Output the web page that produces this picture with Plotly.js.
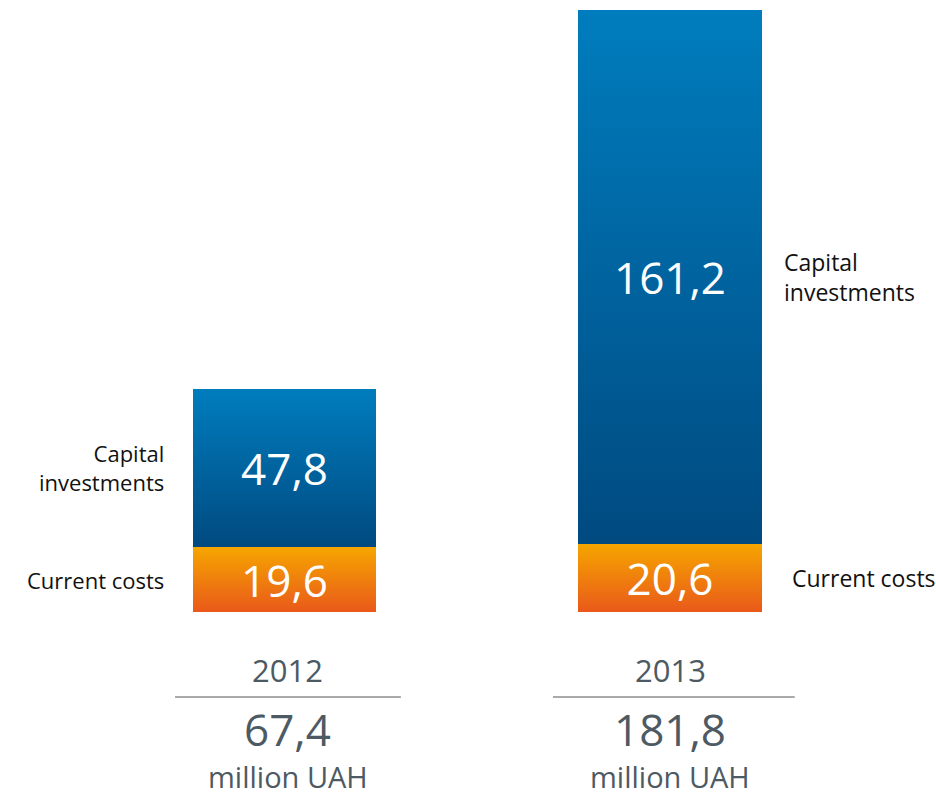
<!DOCTYPE html>
<html>
<head>
<meta charset="utf-8">
<script src="https://cdn.plot.ly/plotly-3.0.1.min.js"></script>
<style>
html,body{margin:0;padding:0;background:#fff;}
#chart{width:936px;height:795px;}
</style>
</head>
<body>
<div id="chart"></div>
<script>
const years = ['2012', '2013'];
const currentCosts = [19.6, 20.6];
const capitalInvestments = [47.8, 161.2];
const totals = [67.4, 181.8];
const seriesNames = ['Current costs', 'Capital investments'];
const unitLabel = 'million UAH';

const fmt = v => v.toFixed(1).replace('.', ',');
const xs = [0, 1];
const barW = 0.475;
const FONT = 'Open Sans, sans-serif';

const traces = [
  {
    type: 'bar', x: xs, y: currentCosts, width: barW, name: seriesNames[0],
    marker: {color: '#EE7F0C'},
    text: currentCosts.map(fmt), textposition: 'inside', insidetextanchor: 'middle',
    constraintext: 'none', textfont: {family: FONT, size: 44, color: '#ffffff'},
    hoverinfo: 'skip'
  },
  {
    type: 'bar', x: xs, y: capitalInvestments, width: barW, name: seriesNames[1],
    marker: {color: '#00649F'},
    text: capitalInvestments.map(fmt), textposition: 'inside', insidetextanchor: 'middle',
    constraintext: 'none', textfont: {family: FONT, size: 44, color: '#ffffff'},
    hoverinfo: 'skip'
  }
];

const annotations = [];
const shapes = [];
const labelFont = {family: FONT, size: 22, color: '#111111'};
const labelFontR = {family: FONT, size: 23, color: '#111111'};
// 2012: left side, right-aligned
annotations.push({xref: 'x', yref: 'y', x: xs[0] - barW / 2 - 0.07, y: currentCosts[0] + capitalInvestments[0] / 2,
  text: 'Capital<br>investments', showarrow: false, xanchor: 'right', yanchor: 'middle', align: 'right', font: labelFont});
annotations.push({xref: 'x', yref: 'y', x: xs[0] - barW / 2 - 0.07, y: currentCosts[0] / 2,
  text: seriesNames[0], showarrow: false, xanchor: 'right', yanchor: 'middle', align: 'right', font: labelFont});
// 2013: right side, left-aligned
annotations.push({xref: 'x', yref: 'y', x: xs[1] + barW / 2 + 0.052, y: currentCosts[1] + capitalInvestments[1] / 2,
  text: 'Capital<br>investments', showarrow: false, xanchor: 'left', yanchor: 'middle', align: 'left', font: labelFontR});
annotations.push({xref: 'x', yref: 'y', x: xs[1] + barW / 2 + 0.075, y: currentCosts[1] / 2,
  text: seriesNames[0], showarrow: false, xanchor: 'left', yanchor: 'middle', align: 'left', font: labelFontR});

const grey = '#4D5A63';
const lineExt = [[-0.284, 0.302], [0.6965, 1.3236]];
const yearCenters = [0.009, 1.0];
years.forEach((yr, i) => {
  annotations.push({xref: 'x', yref: 'paper', x: yearCenters[i], y: -0.0963, text: yr, showarrow: false,
    xanchor: 'center', yanchor: 'middle', font: {family: FONT, size: 31, color: grey}});
  annotations.push({xref: 'x', yref: 'paper', x: yearCenters[i], y: (612 - 729) / 602, text: fmt(totals[i]), showarrow: false,
    xanchor: 'center', yanchor: 'middle', font: {family: FONT, size: 44, color: grey}});
  annotations.push({xref: 'x', yref: 'paper', x: yearCenters[i], y: (612 - 776) / 602, text: unitLabel, showarrow: false,
    xanchor: 'center', yanchor: 'middle', font: {family: FONT, size: 29, color: grey}});
  shapes.push({type: 'line', xref: 'x', yref: 'paper', x0: lineExt[i][0], x1: lineExt[i][1], y0: -0.1412, y1: -0.1412,
    line: {color: '#555555', width: 1}});
});

const layout = {
  width: 936, height: 795,
  margin: {l: 0, r: 0, t: 10, b: 183, pad: 0},
  paper_bgcolor: '#ffffff', plot_bgcolor: '#ffffff',
  barmode: 'stack', showlegend: false,
  xaxis: {range: [-0.738, 1.690], showgrid: false, zeroline: false, showticklabels: false, showline: false, fixedrange: true},
  yaxis: {range: [0, 181.8], showgrid: false, zeroline: false, showticklabels: false, showline: false, fixedrange: true},
  annotations: annotations, shapes: shapes
};

Plotly.newPlot('chart', traces, layout, {staticPlot: true, displayModeBar: false}).then(gd => {
  const svg = gd.querySelector('svg.main-svg');
  const ns = 'http://www.w3.org/2000/svg';
  let defs = svg.querySelector('defs');
  if (!defs) { defs = document.createElementNS(ns, 'defs'); svg.insertBefore(defs, svg.firstChild); }
  function addGrad(id, top, bottom) {
    const g = document.createElementNS(ns, 'linearGradient');
    g.setAttribute('id', id); g.setAttribute('x1', '0'); g.setAttribute('y1', '0'); g.setAttribute('x2', '0'); g.setAttribute('y2', '1');
    [[0, top], [1, bottom]].forEach(([o, c]) => {
      const s = document.createElementNS(ns, 'stop');
      s.setAttribute('offset', o); s.setAttribute('stop-color', c); g.appendChild(s);
    });
    defs.appendChild(g);
  }
  addGrad('gradOrange', '#F6A600', '#E9591A');
  addGrad('gradBlue', '#007DBE', '#004A80');
  const barTraces = gd.querySelectorAll('.barlayer .trace.bars');
  const ids = ['gradOrange', 'gradBlue'];
  barTraces.forEach((t, i) => {
    t.querySelectorAll('.point path').forEach(p => { p.style.fill = 'url(#' + ids[i] + ')'; });
  });
});
</script>
</body>
</html>
